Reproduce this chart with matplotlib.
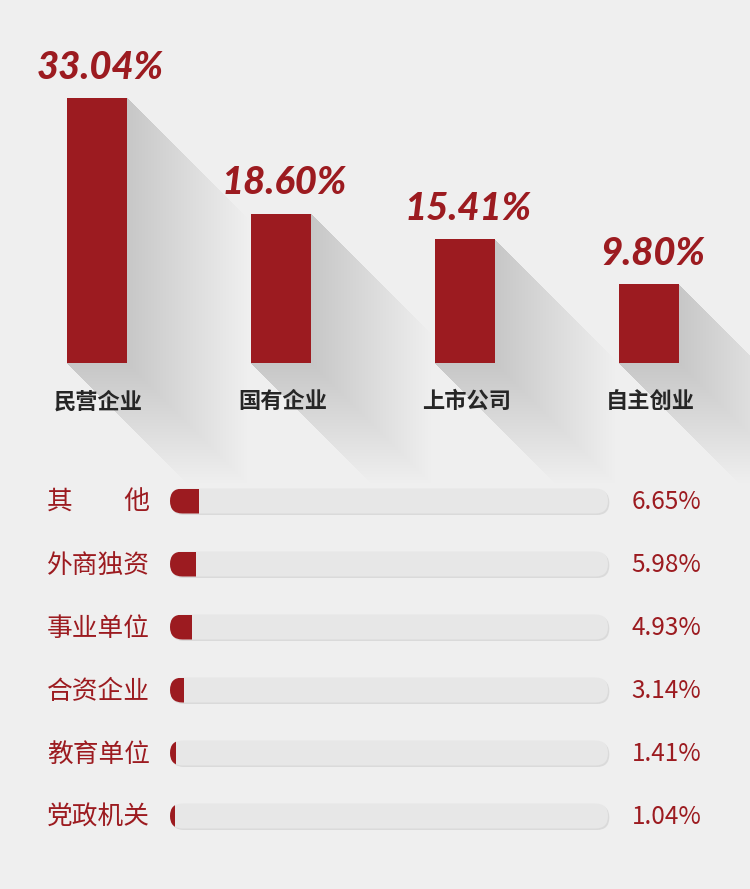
import numpy as np
import matplotlib.pyplot as plt
from matplotlib.patches import Polygon, FancyBboxPatch

plt.rcParams['font.family'] = ['Noto Sans CJK SC', 'DejaVu Sans']

# 上方柱状图
top_cats = ['民营企业', '国有企业', '上市公司', '自主创业']
top_vals = [33.04, 18.60, 15.41, 9.80]
top_labels = ['33.04%', '18.60%', '15.41%', '9.80%']

# 下方进度条
bot_cats = ['其\u3000\u3000他', '外商独资', '事业单位', '合资企业', '教育单位', '党政机关']
bot_vals = [6.65, 5.98, 4.93, 3.14, 1.41, 1.04]
bot_labels = ['6.65%', '5.98%', '4.93%', '3.14%', '1.41%', '1.04%']

RED = '#9c1b20'
BG = '#efefef'
W, H = 750, 889
fig = plt.figure(figsize=(W/100, H/100), dpi=100, facecolor=BG)

# ---------- 上半部分
split = 460
ax1 = fig.add_axes([0, 1-split/H, 1, split/H])
ax1.set_facecolor('none')
ax1.axis('off')
px_x = 184.0   # 每个类别的像素
px_y = 8.02    # 每个百分点的像素
base = 363
x0c = 97
ax1.set_xlim(-x0c/px_x, (W-x0c)/px_x)
ax1.set_ylim(-(split-base)/px_y, base/px_y)
bw = 60/px_x
xs = np.arange(len(top_vals))
ax1.bar(xs, top_vals, width=bw, color=RED, zorder=3)

# 长投影 (叠加半透明多边形形成渐变)
L, N = 120, 40
for d in np.linspace(L, L/N, N):
    dx, dy = d/px_x, -d/px_y
    for x, v in zip(xs, top_vals):
        a, b = x-bw/2, x+bw/2
        pts = [(a, v), (b, v), (b+dx, v+dy), (b+dx, dy), (a+dx, dy), (a, 0)]
        ax1.add_patch(Polygon(pts, closed=True, fc='#a8a8a8', ec='none',
                              alpha=0.0095, zorder=1, clip_on=False))

for x, v, lab, c in zip(xs, top_vals, top_labels, top_cats):
    ax1.annotate(lab, (x, v), xytext=(2.5, 14), textcoords='offset points',
                 ha='center', va='baseline', fontsize=27.5, fontweight='black',
                 style='italic', family=['Lato', 'DejaVu Sans'], color=RED, zorder=4)
    ax1.annotate(c, (x, 0), xytext=(1, -28), textcoords='offset points',
                 ha='center', va='center', fontsize=16, fontweight='bold',
                 color='#262626', zorder=4)

# ---------- 下半部分
ax2 = fig.add_axes([0, 0, 1, (H-split)/H])
ax2.set_facecolor('none')
ax2.axis('off')
tx0, tx1 = 170, 608
ppx = (tx1-tx0)/100
ax2.set_xlim(-tx0/ppx, (W-tx0)/ppx)
row0, rs = 501, 63
ax2.set_ylim((H-row0)/rs, (split-row0)/rs)
th = 25/rs
asp = ppx/rs
rnd = 12.5/ppx

for i, (c, v, lab) in enumerate(zip(bot_cats, bot_vals, bot_labels)):
    sh = FancyBboxPatch((0.3, i-th/2+1.5/rs), 100, th,
                        boxstyle=f'round,pad=0,rounding_size={rnd}',
                        mutation_aspect=asp, fc='#dadada', ec='none', zorder=1)
    ax2.add_patch(sh)
    track = FancyBboxPatch((0, i-th/2), 100, th,
                           boxstyle=f'round,pad=0,rounding_size={rnd}',
                           mutation_aspect=asp, fc='#e7e7e7', ec='none', zorder=2)
    ax2.add_patch(track)
    bars = ax2.barh(i, v, height=th, left=0, color=RED, zorder=3)
    bars[0].set_clip_path(track)
    ax2.annotate(c, (0, i), xytext=(-14.5, -1.5), textcoords='offset points',
                 ha='right', va='center', fontsize=18.5, color=RED)
    ax2.annotate(lab, (100, i), xytext=(17, -0.5), textcoords='offset points',
                 ha='left', va='center', fontsize=17.5, color=RED)

fig.savefig('out.png', dpi=100, facecolor=BG)
